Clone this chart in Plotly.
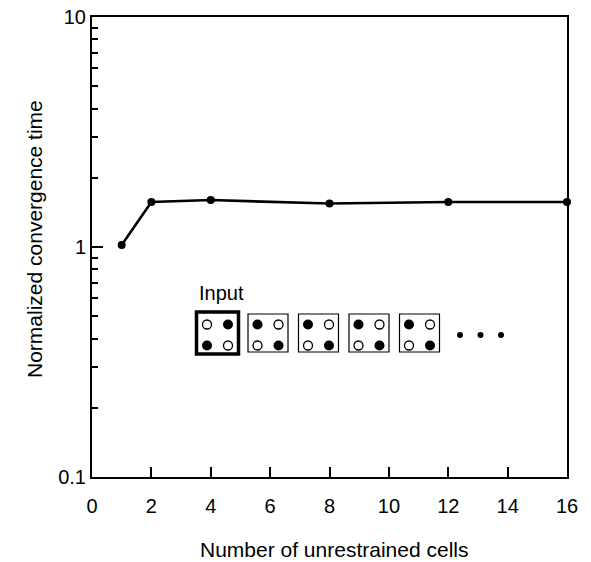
import plotly.graph_objects as go

# ---- data ----
cells = [1, 2, 4, 8, 12, 16]
conv_time = [1.02, 1.57, 1.60, 1.545, 1.57, 1.57]
x_ticks = [0, 2, 4, 6, 8, 10, 12, 14, 16]
y_ticks = [0.1, 1, 10]
y_tick_labels = ["0.1", "1", "10"]
y_minor = [0.2, 0.3, 0.4, 0.5, 0.6, 0.7, 0.8, 0.9, 2, 3, 4, 5, 6, 7, 8, 9]
x_title = "Number of unrestrained cells"
y_title = "Normalized convergence time"

# inset patterns: (TL, TR, BL, BR) 1 = filled, 0 = open
patterns = [
    (0, 1, 1, 0),
    (1, 0, 0, 1),
    (1, 0, 0, 1),
    (1, 0, 0, 1),
    (1, 0, 0, 1),
]
inset_label = "Input"

FONT = "Liberation Sans, Arial, Helvetica, sans-serif"
PAGE_OFF = 8                     # default body margin of the page
L, R, T, B = 92, 567, 17, 477    # plot area in screen pixels
W, H = 591 - PAGE_OFF, 562 - PAGE_OFF


def px2paper(px, py):
    return (px - L) / (R - L), (B - py) / (B - T)


fig = go.Figure()
fig.add_trace(go.Scatter(
    x=cells, y=conv_time, mode="lines+markers",
    line=dict(color="black", width=2.6),
    marker=dict(color="black", size=8),
    showlegend=False, hoverinfo="skip", cliponaxis=False,
))

# ---- inset on pixel-space overlay axes ----
box0_x, box_dx, box_y = 217.5, 50.5, 333
half_w, half_h = 20, 19
off = 10.5
fx, fy, ox, oy = [], [], [], []
shapes = []
for i, p in enumerate(patterns):
    cx = box0_x + i * box_dx
    bold = (i == 0)
    hw = half_w + (1 if bold else 0)
    hh = half_h + (2 if bold else 0)
    shapes.append(dict(type="rect", xref="x2", yref="y2",
                       x0=cx - hw, x1=cx + hw, y0=box_y - hh, y1=box_y + hh,
                       line=dict(color="black", width=3.5 if bold else 1.2)))
    pos = [(cx - off, box_y + 2 - off), (cx + off, box_y + 2 - off),
           (cx - off, box_y + 2 + off), (cx + off, box_y + 2 + off)]
    for (px, py), f in zip(pos, p):
        if f:
            fx.append(px); fy.append(py)
        else:
            ox.append(px); oy.append(py)

fig.add_trace(go.Scatter(x=fx, y=fy, mode="markers", xaxis="x2", yaxis="y2",
                         marker=dict(color="black", size=10),
                         showlegend=False, hoverinfo="skip"))
fig.add_trace(go.Scatter(x=ox, y=oy, mode="markers", xaxis="x2", yaxis="y2",
                         marker=dict(symbol="circle-open", color="black", size=9,
                                     line=dict(width=1.3, color="black")),
                         showlegend=False, hoverinfo="skip"))
dots_x0 = box0_x + len(patterns) * box_dx - 10
fig.add_trace(go.Scatter(x=[dots_x0 + k * 20.5 for k in range(3)], y=[335] * 3,
                         mode="markers", xaxis="x2", yaxis="y2",
                         marker=dict(color="black", size=6),
                         showlegend=False, hoverinfo="skip"))

xt_x, xt_y = px2paper(334, 549)
yt_x, yt_y = px2paper(34, 239)

fig.update_layout(
    template="none",
    width=W, height=H,
    margin=dict(l=L - PAGE_OFF, r=W - (R - PAGE_OFF), t=T - PAGE_OFF,
                b=H - (B - PAGE_OFF), autoexpand=False),
    paper_bgcolor="white", plot_bgcolor="white",
    font=dict(family=FONT, size=20, color="black"),
    shapes=shapes,
    annotations=[
        dict(text=inset_label, xref="x2", yref="y2", x=197, y=293,
             xanchor="left", yanchor="middle", showarrow=False,
             font=dict(size=20, family=FONT, color="black")),
        dict(text=x_title, xref="paper", yref="paper", x=xt_x, y=xt_y,
             xanchor="center", yanchor="middle", showarrow=False,
             font=dict(size=21, family=FONT, color="black")),
        dict(text=y_title, xref="paper", yref="paper", x=yt_x, y=yt_y, textangle=-90,
             xanchor="center", yanchor="middle", showarrow=False,
             font=dict(size=21, family=FONT, color="black")),
    ],
    xaxis=dict(range=[0, 16], tickvals=x_ticks, ticktext=[str(v) for v in x_ticks],
               ticks="inside", ticklen=10, tickwidth=2, tickcolor="black",
               tickfont=dict(size=20), ticklabeloverflow="allow",
               showline=True, linewidth=2, linecolor="black", mirror=True,
               showgrid=False, zeroline=False, automargin=False,
               ticklabelstandoff=10),
    yaxis=dict(type="log", range=[-1, 1], tickvals=y_ticks, ticktext=y_tick_labels,
               ticks="inside", ticklen=11, tickwidth=2, tickcolor="black",
               tickfont=dict(size=20), ticklabeloverflow="allow",
               minor=dict(tickvals=y_minor, ticks="inside", ticklen=6,
                          tickwidth=2, tickcolor="black", showgrid=False),
               showline=True, linewidth=2, linecolor="black", mirror=True,
               showgrid=False, zeroline=False, automargin=False,
               ticklabelstandoff=0),
    xaxis2=dict(overlaying="x", range=[L, R], visible=False, domain=[0, 1]),
    yaxis2=dict(overlaying="y", range=[B, T], visible=False, domain=[0, 1]),
)

fig.write_html("out.html")
